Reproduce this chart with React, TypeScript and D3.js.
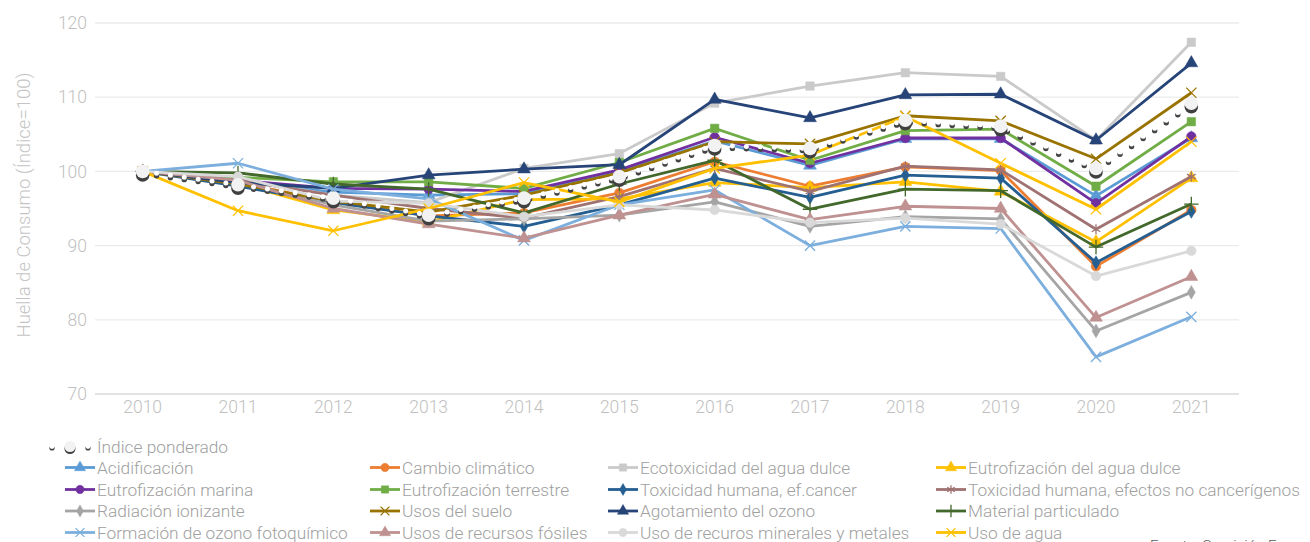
import React, { useEffect, useRef } from "react";
import * as d3 from "d3";

const years = ["2010", "2011", "2012", "2013", "2014", "2015", "2016", "2017", "2018", "2019", "2020", "2021"];
const yTicks = [70, 80, 90, 100, 110, 120];

const indicePonderado = [100, 98.2, 96.4, 94.1, 96.4, 99.3, 103.5, 103.1, 106.9, 106.1, 100.4, 109.2];
const acidificacion = [100, 98.6, 97.2, 96.8, 97.0, 100.0, 104.1, 100.8, 104.4, 104.4, 96.7, 104.5];
const cambioClimatico = [100, 98.5, 95.9, 94.0, 94.4, 97.1, 101.3, 98.0, 100.6, 100.1, 87.2, 94.8];
const ecotoxicidad = [100, 99.0, 96.8, 95.8, 100.4, 102.4, 109.2, 111.5, 113.3, 112.8, 104.2, 117.4];
const eutrofAguaDulce = [100, 98.4, 94.8, 93.2, 96.2, 96.3, 98.5, 97.8, 98.6, 97.3, 90.5, 99.1];
const eutrofMarina = [100, 98.8, 97.7, 97.6, 97.3, 100.2, 104.6, 101.1, 104.5, 104.5, 95.7, 104.7];
const eutrofTerrestre = [100, 99.2, 98.6, 98.6, 97.7, 101.2, 105.8, 101.5, 105.5, 105.7, 98.0, 106.7];
const toxCancer = [100, 98.0, 95.8, 94.0, 92.6, 95.5, 99.1, 96.5, 99.5, 99.1, 87.7, 94.6];
const toxNoCancer = [100, 98.8, 96.8, 95.0, 93.7, 96.6, 100.4, 97.3, 100.7, 100.2, 92.2, 99.3];
const radiacion = [100, 98.6, 95.5, 93.3, 93.6, 94.1, 95.9, 92.6, 93.9, 93.6, 78.5, 83.7];
const usosSuelo = [100, 98.3, 96.0, 94.5, 96.8, 99.8, 104.0, 103.7, 107.5, 106.8, 101.7, 110.6];
const agotamientoOzono = [100, 98.5, 97.7, 99.5, 100.3, 100.9, 109.7, 107.2, 110.3, 110.4, 104.2, 114.6];
const materialParticulado = [100, 99.8, 98.3, 97.6, 94.4, 98.3, 101.5, 94.9, 97.6, 97.4, 89.8, 95.6];
const ozonoFotoquimico = [100, 101.1, 97.6, 96.3, 90.7, 95.5, 97.5, 90.0, 92.6, 92.3, 75.0, 80.4];
const recursosFosiles = [100, 98.8, 95.0, 92.9, 91.0, 94.1, 96.9, 93.5, 95.3, 95.0, 80.3, 85.8];
const recursosMinerales = [100, 99.3, 96.0, 95.7, 93.9, 95.5, 94.8, 93.1, 93.7, 92.9, 85.9, 89.3];
const usoAgua = [100, 94.7, 92.0, 95.0, 98.5, 95.9, 100.4, 102.2, 107.4, 101.1, 94.9, 104.0];

type Serie = {
  name: string;
  values: number[];
  color: string;
  symbol: d3.SymbolType;
  stroke?: boolean;
};

// legend order (4 columns per row)
const series: Serie[] = [
  { name: "Acidificación", values: acidificacion, color: "#5B9BD5", symbol: d3.symbolTriangle },
  { name: "Cambio climático", values: cambioClimatico, color: "#ED7D31", symbol: d3.symbolCircle },
  { name: "Ecotoxicidad del agua dulce", values: ecotoxicidad, color: "#CACACA", symbol: d3.symbolSquare },
  { name: "Eutrofización del agua dulce", values: eutrofAguaDulce, color: "#FFC000", symbol: d3.symbolTriangle },
  { name: "Eutrofización marina", values: eutrofMarina, color: "#7030A0", symbol: d3.symbolCircle },
  { name: "Eutrofización terrestre", values: eutrofTerrestre, color: "#70AD47", symbol: d3.symbolSquare },
  { name: "Toxicidad humana, ef.cancer", values: toxCancer, color: "#255E91", symbol: d3.symbolDiamond },
  { name: "Toxicidad humana, efectos no cancerígenos", values: toxNoCancer, color: "#A07272", symbol: d3.symbolAsterisk, stroke: true },
  { name: "Radiación ionizante", values: radiacion, color: "#A5A5A5", symbol: d3.symbolDiamond },
  { name: "Usos del suelo", values: usosSuelo, color: "#997300", symbol: d3.symbolTimes, stroke: true },
  { name: "Agotamiento del ozono", values: agotamientoOzono, color: "#264478", symbol: d3.symbolTriangle },
  { name: "Material particulado", values: materialParticulado, color: "#43682B", symbol: d3.symbolPlus, stroke: true },
  { name: "Formación de ozono fotoquímico", values: ozonoFotoquimico, color: "#7CAFDD", symbol: d3.symbolTimes, stroke: true },
  { name: "Usos de recursos fósiles", values: recursosFosiles, color: "#BF9191", symbol: d3.symbolTriangle },
  { name: "Uso de recuros minerales y metales", values: recursosMinerales, color: "#D9D9D9", symbol: d3.symbolCircle },
  { name: "Uso de agua", values: usoAgua, color: "#FFC000", symbol: d3.symbolTimes, stroke: true },
];

const legendCols = [97, 402, 640, 968];
const legendRows = [467.5, 489.5, 511, 532.5];

const FONT = "Roboto, 'Noto Sans', sans-serif";

const App = () => {
  const svgRef = useRef<SVGSVGElement>(null);

  useEffect(() => {
    const svg = d3.select(svgRef.current);
    svg.selectChildren().remove();

    const x = d3.scalePoint<string>().domain(years).range([95, 1239]).padding(0.5);
    const y = d3.scaleLinear().domain([70, 120]).range([394, 23]);

    // gridlines
    svg
      .append("g")
      .selectAll("line")
      .data(yTicks)
      .enter()
      .append("line")
      .attr("x1", 95)
      .attr("x2", 1239)
      .attr("y1", (d) => y(d))
      .attr("y2", (d) => y(d))
      .attr("stroke", (d) => (d === 70 ? "#D9D9D9" : "#EBEBEB"))
      .attr("stroke-width", 1.3);

    // y tick labels
    svg
      .append("g")
      .selectAll("text")
      .data(yTicks)
      .enter()
      .append("text")
      .attr("x", 87)
      .attr("y", (d) => y(d))
      .attr("dy", "0.35em")
      .attr("text-anchor", "end")
      .attr("font-family", FONT)
      .attr("font-weight", 300)
      .attr("font-size", 17.5)
      .attr("fill", "#BFBFBF")
      .text((d) => d);

    // x tick labels
    svg
      .append("g")
      .selectAll("text")
      .data(years)
      .enter()
      .append("text")
      .attr("x", (d) => x(d) as number)
      .attr("y", 407)
      .attr("dy", "0.35em")
      .attr("text-anchor", "middle")
      .attr("font-family", FONT)
      .attr("font-weight", 300)
      .attr("font-size", 17.5)
      .attr("fill", "#BFBFBF")
      .text((d) => d);

    // y axis title
    svg
      .append("text")
      .attr("transform", "translate(24,205) rotate(-90)")
      .attr("dy", "0.35em")
      .attr("text-anchor", "middle")
      .attr("font-family", FONT)
      .attr("font-weight", 300)
      .attr("font-size", 18.5)
      .attr("fill", "#C4C4C4")
      .text("Huella de Consumo (Índice=100)");

    const line = d3
      .line<number>()
      .x((d, i) => x(years[i]) as number)
      .y((d) => y(d));

    const drawMarker = (g: d3.Selection<SVGGElement, unknown, null, undefined>, s: Serie, cx: number, cy: number, scale = 1) => {
      const size = s.stroke ? 70 : s.symbol === d3.symbolDiamond ? 55 : 72;
      g.append("path")
        .attr("transform", `translate(${cx},${cy})`)
        .attr("d", d3.symbol().type(s.symbol).size(size * scale)() as string)
        .attr("fill", s.stroke ? "none" : s.color)
        .attr("stroke", s.color)
        .attr("stroke-width", s.stroke ? 1.3 : 0.5);
    };

    // series lines and markers
    series.forEach((s) => {
      const g = svg.append("g");
      g.append("path")
        .attr("d", line(s.values) as string)
        .attr("fill", "none")
        .attr("stroke", s.color)
        .attr("stroke-width", 2.8)
        .attr("stroke-linejoin", "round");
      s.values.forEach((v, i) => drawMarker(g, s, x(years[i]) as number, y(v)));
    });

    // weighted index: white dotted line with shadow
    const idx = svg.append("g");
    [
      { dy: 2.4, color: "#444444", w: 5.4 },
      { dy: 0, color: "#FFFFFF", w: 5 },
    ].forEach((layer) => {
      idx
        .append("path")
        .attr("transform", `translate(0,${layer.dy})`)
        .attr("d", line(indicePonderado) as string)
        .attr("fill", "none")
        .attr("stroke", layer.color)
        .attr("stroke-width", layer.w)
        .attr("stroke-linecap", "round")
        .attr("stroke-dasharray", "0 14");
    });
    indicePonderado.forEach((v, i) => {
      const cx = x(years[i]) as number;
      idx.append("circle").attr("cx", cx).attr("cy", y(v) + 3.5).attr("r", 6.8).attr("fill", "#404040");
      idx.append("circle").attr("cx", cx).attr("cy", y(v)).attr("r", 6.8).attr("fill", "#F2F2F2");
    });

    // legend
    const legend = svg.append("g");
    const textStyle = (t: d3.Selection<SVGTextElement, unknown, null, undefined>) =>
      t
        .attr("dy", "0.35em")
        .attr("font-family", FONT)
        .attr("font-weight", 300)
        .attr("font-size", 17.3)
        .attr("fill", "#A0A0A0");

    // first row: weighted index
    const ly0 = 446.5;
    [52, 88].forEach((cx) => {
      legend.append("circle").attr("cx", cx).attr("cy", ly0 + 1.5).attr("r", 2.6).attr("fill", "#444");
      legend.append("circle").attr("cx", cx).attr("cy", ly0).attr("r", 2.4).attr("fill", "#fff");
    });
    legend.append("circle").attr("cx", 70).attr("cy", ly0 + 2).attr("r", 5.5).attr("fill", "#404040");
    legend.append("circle").attr("cx", 70).attr("cy", ly0).attr("r", 5.5).attr("fill", "#F2F2F2");
    textStyle(legend.append("text").attr("x", 97).attr("y", ly0).text("Índice ponderado"));

    series.forEach((s, i) => {
      const lx = legendCols[i % 4];
      const ly = legendRows[Math.floor(i / 4)];
      legend
        .append("line")
        .attr("x1", lx - 32)
        .attr("x2", lx - 2)
        .attr("y1", ly)
        .attr("y2", ly)
        .attr("stroke", s.color)
        .attr("stroke-width", 2.8);
      drawMarker(legend, s, lx - 17, ly, 0.75);
      textStyle(legend.append("text").attr("x", lx).attr("y", ly).text(s.name));
    });

    // source note (cut at the bottom edge)
    svg
      .append("text")
      .attr("x", 1150)
      .attr("y", 551)
      .attr("font-family", FONT)
      .attr("font-weight", 300)
      .attr("font-size", 15)
      .attr("fill", "#595959")
      .text("Fuente: Comisión Europea");
  }, []);

  return (
    <svg
      ref={svgRef}
      width={1310}
      height={542}
      style={{ position: "absolute", left: 0, top: 0, background: "#fff" }}
    />
  );
};

export default App;
